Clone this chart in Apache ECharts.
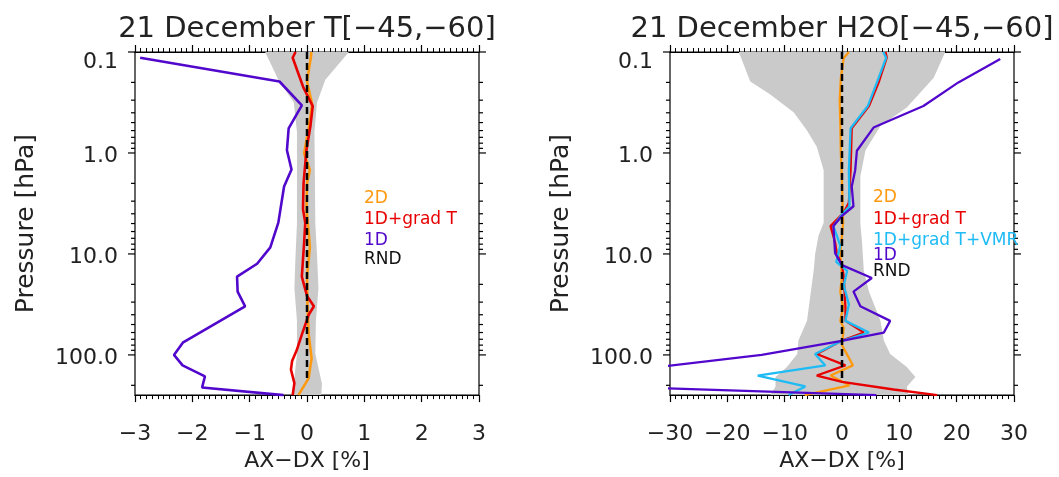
<!DOCTYPE html>
<html>
<head>
    <meta http-equiv="Content-Type" content="text/html; charset=utf-8"/>
    <title>AX-DX profiles</title>
    <script src="https://cdn.jsdelivr.net/npm/echarts@6/dist/echarts.min.js"></script>
</head>
<body style="margin:0;background:#fff;">
<div id="main" style="width:1059px;height:477px;"></div>
<script type="text/javascript">
    // pressure ticks [hPa]
    var majorP = [0.1, 1, 10, 100];
    var minorP = [0.2, 0.3, 0.4, 0.5, 0.6, 0.7, 0.8, 0.9, 2, 3, 4, 5, 6, 7, 8, 9,
        20, 30, 40, 50, 60, 70, 80, 90, 200];

    // T panel, points are [AX-DX %, pressure hPa]
    var t2D = [[0.075, 0.1], [0.07, 0.11], [0.0, 0.196], [0.09, 0.33], [0.03, 0.56], [-0.05, 1.01],
        [0.05, 1.47], [0.0, 2.0], [-0.01, 3.6], [0.03, 6.1], [0.05, 8.6], [0.0, 16.8], [0.01, 34],
        [0.03, 63], [0.08, 108], [0.05, 140], [0.03, 170], [-0.15, 250]];
    var tGradT = [[-0.20, 0.1], [-0.25, 0.114], [-0.06, 0.227], [0.10, 0.343], [0.06, 0.54], [-0.01, 0.94],
        [-0.06, 2.0], [-0.07, 3.6], [-0.03, 4.9], [-0.05, 7.7], [-0.09, 16.8], [0.0, 26], [0.12, 33],
        [0.03, 40], [-0.09, 63], [-0.18, 90], [-0.26, 115], [-0.28, 140], [-0.22, 190], [-0.25, 250]];
    var t1D = [[-2.91, 0.114], [-0.48, 0.196], [-0.09, 0.338], [-0.32, 0.57], [-0.35, 0.94], [-0.27, 1.46],
        [-0.40, 2.15], [-0.50, 4.9], [-0.64, 8.6], [-0.87, 12.5], [-1.22, 16.8], [-1.21, 23.6], [-1.08, 33],
        [-2.16, 75], [-2.32, 100], [-2.17, 127], [-1.78, 163], [-1.83, 210], [-0.41, 250]];
    var tRnd = [[0, 0.1], [0, 185]];
    var tBandLo = [[-0.73, 0.1], [-0.50, 0.188], [-0.23, 0.316], [-0.175, 0.62], [-0.175, 5], [-0.20, 10.3],
        [-0.22, 21.9], [-0.175, 46], [-0.175, 98], [-0.23, 192], [-0.26, 250]];
    var tBandHi = [[0.73, 0.1], [0.32, 0.188], [0.175, 0.316], [0.13, 0.62], [0.145, 5], [0.175, 10.3],
        [0.20, 21.9], [0.155, 46], [0.145, 98], [0.26, 192], [0.25, 250]];

    // H2O panel
    var h2D = [[1.2, 0.1], [0.3, 0.115], [-0.2, 0.18], [-0.4, 0.3], [-0.3, 0.5], [-0.2, 1.0], [0, 2.0],
        [0.2, 4.9], [0, 6.6], [-0.3, 10], [0, 16.8], [-0.3, 23.6], [0.2, 34], [-0.3, 46], [0.3, 54],
        [0, 80], [1.9, 127], [-2.0, 160], [1.3, 200], [-6.5, 250]];
    var hGradT = [[7.6, 0.1], [7.8, 0.114], [6.4, 0.2], [4.7, 0.343], [1.7, 0.57], [1.5, 1.48], [1.2, 3.1],
        [0.3, 3.9], [-2.0, 5.3], [-1.2, 7.7], [-0.9, 10], [0, 12.9], [0.3, 16.8], [0.6, 34], [0.6, 46],
        [3.8, 60], [0, 72], [-4.4, 98], [0.6, 127], [-4.4, 160], [0, 185], [9.0, 220], [16.6, 250]];
    var hGradTVmr = [[7.2, 0.1], [7.7, 0.114], [6.1, 0.2], [4.5, 0.343], [1.5, 0.57], [1.2, 1.48],
        [1.3, 3.37], [0, 4.05], [-1.5, 5.3], [-0.9, 6.6], [-0.3, 8.3], [-1.0, 12], [0.9, 14.7], [0.3, 20.5],
        [1.2, 31.6], [0.6, 46], [4.7, 60], [0, 72.5], [-4.7, 98], [-2.9, 127], [-14.7, 160], [-6.4, 205],
        [-9.3, 250]];
    var h1D = [[27.6, 0.117], [20.3, 0.2], [14.2, 0.343], [5.5, 0.56], [2.6, 0.95], [2.3, 1.48], [1.7, 2.15],
        [2.0, 3.37], [0, 4.2], [-1.5, 5.3], [-1.2, 9.8], [0, 12.9], [5.2, 17.3], [2.0, 23.6], [3.2, 33],
        [8.4, 46], [7.3, 60], [-0.3, 73], [-14, 100], [-36, 140], [-60, 190], [6, 250]];
    var hRnd = [[0, 0.1], [0, 185]];
    var hBandLo = [[-18.0, 0.1], [-16.0, 0.196], [-12.5, 0.264], [-8.4, 0.398], [-6.1, 0.6], [-4.4, 0.87],
        [-3.2, 1.48], [-3.2, 4.9], [-4.1, 6.6], [-4.7, 10.2], [-4.9, 14], [-6.1, 46], [-7.6, 72], [-7.8, 98],
        [-9.6, 132], [-11.6, 165], [-11.6, 207], [-12.5, 250]];
    var hBandHi = [[18.0, 0.1], [16.0, 0.18], [11.3, 0.355], [6.7, 0.54], [4.1, 0.94], [3.2, 1.7], [3.2, 5],
        [3.5, 7.7], [3.8, 14.6], [4.7, 23.6], [6.7, 46], [7.3, 72], [8.4, 98], [11.3, 132], [12.8, 165],
        [11.3, 207], [11.6, 250]];

    var tLabels = ['2D', '1D+grad T', '1D', 'RND'];
    var hLabels = ['2D', '1D+grad T', '1D+grad T+VMR', '1D', 'RND'];

    var ORANGE = '#FF9A10', RED = '#E80000', PURPLE = '#5208CC', CYAN = '#1EBBF5', GREY = '#CACACA';
    var FONT = 'DejaVu Sans';

    var myChart = echarts.init(document.getElementById('main'));

    function fmtX(v) {
        v = Math.round(v);
        return v < 0 ? '\u2212' + Math.abs(v) : String(v);
    }

    function fmtY(v) {
        if (v > 150) return '';
        if (v < 0.5) return '{t|0.1}';
        return '{n|' + v.toFixed(1) + '}';
    }

    function xAxis(grid, min, max, interval, pos) {
        var bottom = pos === 'bottom';
        return {
            type: 'value', gridIndex: grid, position: pos, min: min, max: max, interval: interval,
            axisLine: {show: true, onZero: false, lineStyle: {color: '#000', width: 1.2}},
            axisTick: {show: true, length: 7, lineStyle: {color: '#000', width: 1.2}},
            minorTick: {show: true, splitNumber: 10, length: 4, lineStyle: {color: '#000', width: 1}},
            splitLine: {show: false},
            axisLabel: {
                show: bottom, formatter: fmtX, margin: 28, color: '#222',
                fontFamily: FONT, fontSize: 22
            },
            name: bottom ? 'AX\u2212DX [%]' : '', nameLocation: 'middle', nameGap: 53,
            nameTextStyle: {fontFamily: FONT, fontSize: 22, color: '#222'}
        };
    }

    function yAxis(grid) {
        return {
            type: 'log', logBase: 10, gridIndex: grid, inverse: true, min: 0.1, max: 250,
            axisLine: {show: true, lineStyle: {color: '#000', width: 1.2}},
            axisTick: {show: false},
            splitLine: {show: false},
            axisLabel: {
                formatter: fmtY, margin: 17, color: '#222', fontFamily: FONT, fontSize: 22,
                rich: {
                    t: {fontFamily: FONT, fontSize: 22, color: '#222', padding: [20, 0, 0, 0]},
                    n: {fontFamily: FONT, fontSize: 22, color: '#222', padding: [6, 0, 0, 0]}
                }
            },
            name: 'Pressure [hPa]', nameLocation: 'middle', nameRotate: 90, nameGap: 96,
            nameTextStyle: {fontFamily: FONT, fontSize: 25, color: '#222'}
        };
    }

    // y ticks (log minor ticks at 2..9) on both sides of a panel
    function tickSeries(xi, yi, xmin, xmax) {
        var data = majorP.map(function (p) { return [0, p, 1]; })
            .concat(minorP.map(function (p) { return [0, p, 0]; }));
        return {
            type: 'custom', xAxisIndex: xi, yAxisIndex: yi, silent: true, z: 6,
            data: data, encode: {x: 0, y: 1},
            renderItem: function (params, api) {
                var p = api.value(1), len = api.value(2) ? 7 : 4;
                var a = api.coord([xmin, p]), b = api.coord([xmax, p]);
                return {
                    type: 'group', children: [
                        {type: 'line', shape: {x1: a[0] - len, y1: a[1], x2: a[0], y2: a[1]},
                            style: {stroke: '#000', lineWidth: 1.2}},
                        {type: 'line', shape: {x1: b[0], y1: b[1], x2: b[0] + len, y2: b[1]},
                            style: {stroke: '#000', lineWidth: 1.2}}
                    ]
                };
            }
        };
    }

    function bandSeries(xi, yi, lo, hi) {
        return {
            type: 'custom', xAxisIndex: xi, yAxisIndex: yi, silent: true, z: 1,
            data: [[0, 1]], encode: {x: 0, y: 1},
            renderItem: function (params, api) {
                var pts = hi.map(function (d) { return api.coord(d); })
                    .concat(lo.slice().reverse().map(function (d) { return api.coord(d); }));
                return {type: 'polygon', shape: {points: pts}, style: {fill: GREY}};
            }
        };
    }

    function lineSeries(xi, yi, name, data, color, width, dashed) {
        return {
            name: name, type: 'line', xAxisIndex: xi, yAxisIndex: yi, data: data,
            symbol: 'none', clip: true, silent: true, z: dashed ? 4 : 3,
            lineStyle: {color: color, width: width, type: dashed ? [7, 4] : 'solid'}
        };
    }

    function textEl(x, y, text, color, size, align) {
        return {
            type: 'text', x: x, y: y, silent: true, z: 10,
            style: {
                text: text, fill: color, fontFamily: FONT, fontSize: size,
                align: align, verticalAlign: 'middle', textAlign: align, textVerticalAlign: 'middle'
            }
        };
    }

    var tColors = [ORANGE, RED, PURPLE, '#111'];
    var hColors = [ORANGE, RED, CYAN, PURPLE, '#111'];
    var tLabelY = [199, 220, 241, 260];
    var hLabelY = [198, 220, 241, 256, 272];
    var graphics = [
        textEl(307, 29, '21 December T[\u221245,\u221260]', '#222', 29, 'center'),
        textEl(842, 29, '21 December H2O[\u221245,\u221260]', '#222', 29, 'center')
    ];
    tLabels.forEach(function (s, i) { graphics.push(textEl(364, tLabelY[i], s, tColors[i], 17, 'left')); });
    hLabels.forEach(function (s, i) { graphics.push(textEl(873, hLabelY[i], s, hColors[i], 17, 'left')); });

    myChart.setOption({
        animation: false,
        backgroundColor: '#fff',
        grid: [
            {left: 135, top: 52, width: 344, height: 348, show: true, borderColor: '#000', borderWidth: 1.2},
            {left: 670, top: 52, width: 344, height: 348, show: true, borderColor: '#000', borderWidth: 1.2}
        ],
        xAxis: [
            xAxis(0, -3, 3, 1, 'bottom'),
            xAxis(0, -3, 3, 1, 'top'),
            xAxis(1, -30, 30, 10, 'bottom'),
            xAxis(1, -30, 30, 10, 'top')
        ],
        yAxis: [yAxis(0), yAxis(1)],
        graphic: graphics,
        series: [
            bandSeries(0, 0, tBandLo, tBandHi),
            lineSeries(0, 0, '2D', t2D, ORANGE, 2.6),
            lineSeries(0, 0, '1D+grad T', tGradT, RED, 2.6),
            lineSeries(0, 0, '1D', t1D, PURPLE, 2.6),
            lineSeries(0, 0, 'RND', tRnd, '#000', 2.5, true),
            tickSeries(0, 0, -3, 3),

            bandSeries(2, 1, hBandLo, hBandHi),
            lineSeries(2, 1, '2D', h2D, ORANGE, 2.3),
            lineSeries(2, 1, '1D+grad T', hGradT, RED, 2.3),
            lineSeries(2, 1, '1D+grad T+VMR', hGradTVmr, CYAN, 2.3),
            lineSeries(2, 1, '1D', h1D, PURPLE, 2.3),
            lineSeries(2, 1, 'RND', hRnd, '#000', 2.5, true),
            tickSeries(2, 1, -30, 30)
        ]
    });
</script>
</body>
</html>
